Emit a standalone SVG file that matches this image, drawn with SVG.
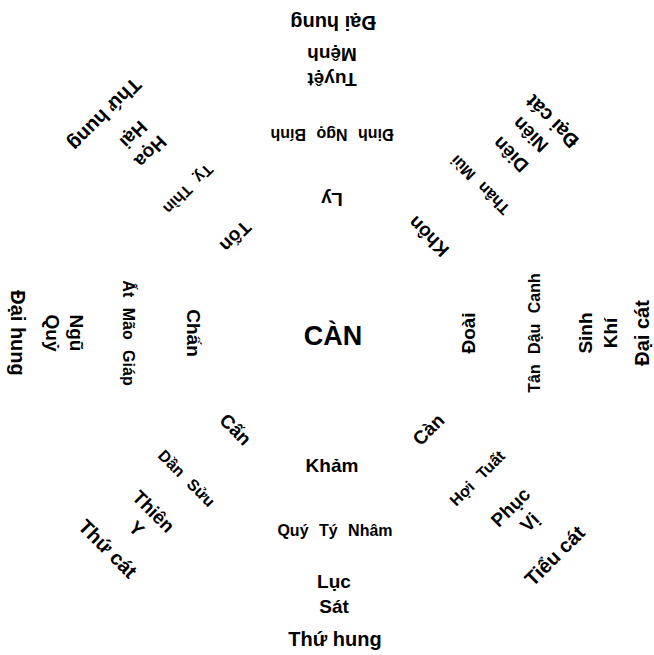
<svg xmlns="http://www.w3.org/2000/svg" width="654" height="655" viewBox="0 0 654 655">
<style>
text{font-family:"Liberation Sans",Arial,sans-serif;font-weight:bold;fill:#000;text-anchor:middle}
.c{font-size:27px}
.r1{font-size:19px}
.r2{font-size:16px;word-spacing:6px}
.r3{font-size:19px}
.r4{font-size:20px}
</style>
<rect width="654" height="655" fill="#fff"/>
<g id="center"><text class="c" x="333" y="345">CÀN</text></g>
<g id="khảm">
<text class="r1" x="332" y="472">Khảm</text>
<text class="r2" x="335" y="536">Quý Tý Nhâm</text>
<text class="r3" x="334" y="588">Lục</text>
<text class="r3" x="334" y="613">Sát</text>
<text class="r4" x="335" y="646">Thứ hung</text>
</g>
<g id="cấn" transform="rotate(45 332 333)">
<text class="r1" x="332" y="476">Cấn</text>
<text class="r2" x="332" y="544">Dần Sửu</text>
<text class="r3" x="332" y="592">Thiên</text>
<text class="r3" x="332" y="616">Y</text>
<text class="r4" x="326" y="651">Thứ cát</text>
</g>
<g id="chấn" transform="rotate(90 332 333)">
<text class="r1" x="332" y="478">Chấn</text>
<text class="r2" x="332" y="542">Ất Mão Giáp</text>
<text class="r3" x="332" y="595">Ngũ</text>
<text class="r3" x="332" y="619">Quỷ</text>
<text class="r4" x="332" y="654">Đại hung</text>
</g>
<g id="tốn" transform="rotate(135 332 333)">
<text class="r1" x="332" y="476">Tốn</text>
<text class="r2" x="332" y="542">Tỵ Thìn</text>
<text class="r3" x="332" y="596">Họa</text>
<text class="r3" x="332" y="620">Hại</text>
<text class="r4" x="338" y="655">Thứ hung</text>
</g>
<g id="ly" transform="rotate(180 332 333)">
<text class="r1" x="332" y="473">Ly</text>
<text class="r2" x="332" y="537">Đinh Ngọ Bính</text>
<text class="r3" x="332" y="593">Tuyệt</text>
<text class="r3" x="332" y="618">Mệnh</text>
<text class="r4" x="331" y="650">Đại hung</text>
</g>
<g id="khôn" transform="rotate(225 332 333)">
<text class="r1" x="332" y="476">Khôn</text>
<text class="r2" x="332" y="548">Thân Mùi</text>
<text class="r3" x="332" y="592">Diên</text>
<text class="r3" x="332" y="620">Niên</text>
<text class="r4" x="326" y="645">Đại cát</text>
</g>
<g id="đoài" transform="rotate(270 332 333)">
<text class="r1" x="332" y="476">Đoài</text>
<text class="r2" x="332" y="541">Tân Dậu Canh</text>
<text class="r3" x="332" y="593">Sinh</text>
<text class="r3" x="332" y="618">Khí</text>
<text class="r4" x="332" y="650">Đại cát</text>
</g>
<g id="càn" transform="rotate(315 332 333)">
<text class="r1" x="332" y="476">Càn</text>
<text class="r2" x="332" y="544">Hợi Tuất</text>
<text class="r3" x="335" y="589">Phục</text>
<text class="r3" x="338" y="613">Vị</text>
<text class="r4" x="332" y="655">Tiểu cát</text>
</g>
<g id="connectors"/>
</svg>
